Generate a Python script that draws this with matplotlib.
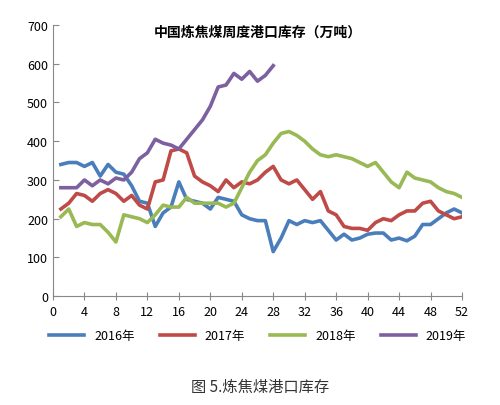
import matplotlib
matplotlib.use("Agg")
import matplotlib.pyplot as plt

plt.rcParams['font.family'] = ['Noto Sans CJK SC', 'DejaVu Sans']

weeks = list(range(1, 53))
s2016 = [340,345,345,335,345,310,340,320,315,285,245,240,180,215,230,295,250,245,240,225,255,250,245,210,200,195,195,115,150,195,185,195,190,195,170,145,160,145,150,160,163,163,145,150,143,155,185,185,200,215,225,215]
s2017 = [225,240,265,260,245,265,275,265,245,260,235,225,295,300,375,380,370,310,295,285,270,300,280,295,290,300,320,335,300,290,300,275,250,270,220,210,180,175,175,170,190,200,195,210,220,220,240,245,220,210,200,205]
s2018 = [205,225,180,190,185,185,165,140,210,205,200,190,210,235,230,230,255,240,240,240,240,230,240,280,320,350,365,395,420,425,415,400,380,365,360,365,360,355,345,335,345,320,295,280,320,305,300,295,280,270,265,255]
s2019 = [280,280,280,300,285,300,290,305,300,320,355,370,405,395,390,380,405,430,455,490,540,545,575,560,580,555,570,595]
labels = ['2016年', '2017年', '2018年', '2019年']
colors = ['#4a7ebb', '#be4b48', '#98b954', '#7d60a0']
xticks = list(range(0, 53, 4))
yticks = list(range(0, 701, 100))

fig = plt.figure(figsize=(5.0, 4.06), dpi=100)
ax = fig.add_axes([0.106, 0.268, 0.818, 0.668])
for s, lab, c in zip([s2016, s2017, s2018, s2019], labels, colors):
    ax.plot(weeks[:len(s)], s, color=c, lw=2.6, label=lab, solid_joinstyle='round')
ax.set_xlim(0, 52)
ax.set_ylim(0, 700)
ax.set_xticks(xticks)
ax.set_yticks(yticks)
for sp in ['top', 'right']:
    ax.spines[sp].set_visible(False)
for sp in ['left', 'bottom']:
    ax.spines[sp].set_color('#888888')
ax.tick_params(labelsize=9, color='#888888', length=4, direction='in')
ax.tick_params(axis='x', direction='inout', length=6)
ax.set_title('中国炼焦煤周度港口库存（万吨）', fontsize=10, fontweight='bold', y=0.93)
ax.legend(loc='upper center', bbox_to_anchor=(0.5, -0.08), ncol=4, frameon=False,
          fontsize=9, handlelength=2.8, columnspacing=2.0)
fig.text(0.52, 0.035, '图 5.炼焦煤港口库存', ha='center', fontsize=11, color='#333333')
fig.savefig('out.png', dpi=100)
